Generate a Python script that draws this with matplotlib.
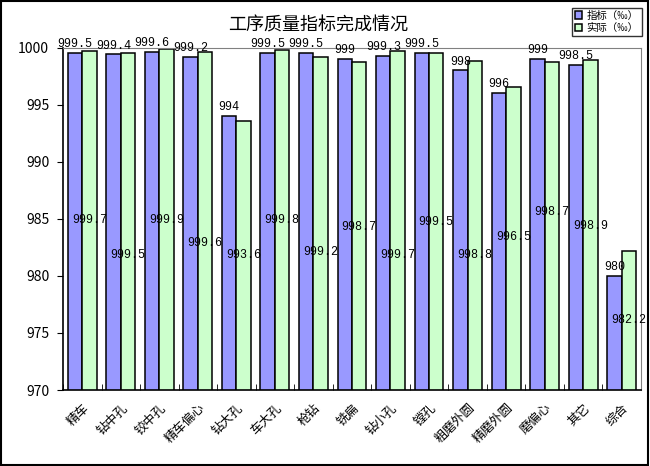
import matplotlib.pyplot as plt
import numpy as np
from matplotlib.patches import Rectangle

plt.rcParams['font.family'] = ['Noto Sans CJK SC', 'DejaVu Sans']

categories = ['精车', '钻中孔', '铰中孔', '精车偏心', '钻大孔', '车大孔', '枪钻', '铣扁',
              '钻小孔', '镗孔', '粗磨外圆', '精磨外圆', '磨偏心', '其它', '综合']
target = [999.5, 999.4, 999.6, 999.2, 994, 999.5, 999.5, 999, 999.3, 999.5, 998, 996, 999, 998.5, 980]
actual = [999.7, 999.5, 999.9, 999.6, 993.6, 999.8, 999.2, 998.7, 999.7, 999.5, 998.8, 996.5, 998.7, 998.9, 982.2]
target_labels = ['999.5', '999.4', '999.6', '999.2', '994', '999.5', '999.5', '999', '999.3',
                 '999.5', '998', '996', '999', '998.5', '980']
actual_labels = ['999.7', '999.5', '999.9', '999.6', '993.6', '999.8', '999.2', '998.7', '999.7',
                 '999.5', '998.8', '996.5', '998.7', '998.9', '982.2']
# where the "actual" labels sit (as in the original sheet)
actual_label_y = [984.85, 981.85, 984.85, 982.9, 981.85, 984.9, 982.05, 984.3,
                  981.85, 984.75, 981.85, 983.4, 985.6, 984.4, 976.15]

fig = plt.figure(figsize=(6.5, 4.66), dpi=100)
ax = fig.add_axes([0.097, 0.163, 0.889, 0.735])

x = np.arange(len(categories))
w = 0.375
blue = '#9999FF'
green = '#CCFFCC'

ax.bar(x - w / 2, target, w, bottom=0, color=blue, edgecolor='black', linewidth=1.1,
       label='指标（‰）')
ax.bar(x + w / 2, actual, w, bottom=0, color=green, edgecolor='black', linewidth=1.1,
       label='实际（‰）')

ax.set_ylim(970, 1000)
ax.set_xlim(-0.5, len(categories) - 0.5)
ax.set_yticks(range(970, 1001, 5))
ax.tick_params(axis='y', direction='out', length=4, labelsize=10, pad=6)

ax.set_xticks(x)
ax.set_xticklabels(categories, rotation=45, ha='right', rotation_mode='anchor', fontsize=9)
ax.set_xticks(np.arange(len(categories) + 1) - 0.5, minor=True)
ax.tick_params(axis='x', which='major', length=0, pad=8)
ax.tick_params(axis='x', which='minor', direction='in', length=4)

for s in ['top', 'right']:
    ax.spines[s].set_color('#808080')
for s in ['left', 'bottom']:
    ax.spines[s].set_color('black')
    ax.spines[s].set_linewidth(1.2)

for i in range(len(categories)):
    ax.text(x[i] - w / 2, target[i] + 0.25, target_labels[i], ha='center', va='bottom',
            fontsize=8.5, family='Liberation Mono', clip_on=False)
    ax.text(x[i] + w / 2, actual_label_y[i], actual_labels[i], ha='center', va='center',
            fontsize=8.5, family='Liberation Mono')

fig.text(0.49, 0.945, '工序质量指标完成情况', ha='center', va='center', fontsize=13)

leg = fig.legend(loc='upper right', bbox_to_anchor=(0.995, 0.995), fontsize=7.5,
                 frameon=True, fancybox=False, edgecolor='black', handlelength=0.7,
                 handleheight=0.7, handletextpad=0.4, borderpad=0.3, labelspacing=0.25)
leg.get_frame().set_linewidth(1)

fig.patches.append(Rectangle((0.001, 0.003), 0.996, 0.995, transform=fig.transFigure,
                             fill=False, edgecolor='black', linewidth=1.5))

fig.savefig('out.png', dpi=100)
